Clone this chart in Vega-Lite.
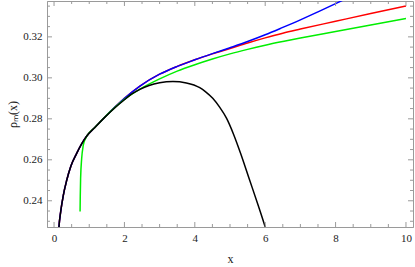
{
  "$schema": "https://vega.github.io/schema/vega-lite/v6.json",
  "width": 366,
  "height": 226,
  "autosize": {"type": "none"},
  "padding": {"left": 47, "top": 1, "right": 2, "bottom": 40},
  "background": "white",
  "config": {
    "view": {"stroke": "#9a9a9a", "strokeWidth": 1},
    "axis": {
      "labelFont": "Liberation Serif",
      "titleFont": "Liberation Serif",
      "labelFontSize": 11,
      "titleFontSize": 12,
      "labelColor": "#222",
      "titleColor": "#222",
      "titleFontWeight": "normal",
      "domainColor": "#9a9a9a",
      "domainWidth": 1,
      "labelOverlap": false,
      "labelFlush": false
    }
  },
  "datasets": {
    "xticks": [
      {"v": 0, "major": true}, {"v": 0.5, "major": false}, {"v": 1, "major": false}, {"v": 1.5, "major": false},
      {"v": 2, "major": true}, {"v": 2.5, "major": false}, {"v": 3, "major": false}, {"v": 3.5, "major": false},
      {"v": 4, "major": true}, {"v": 4.5, "major": false}, {"v": 5, "major": false}, {"v": 5.5, "major": false},
      {"v": 6, "major": true}, {"v": 6.5, "major": false}, {"v": 7, "major": false}, {"v": 7.5, "major": false},
      {"v": 8, "major": true}, {"v": 8.5, "major": false}, {"v": 9, "major": false}, {"v": 9.5, "major": false},
      {"v": 10, "major": true}
    ],
    "yticks": [
      {"v": 0.23, "major": false}, {"v": 0.235, "major": false}, {"v": 0.24, "major": true}, {"v": 0.245, "major": false},
      {"v": 0.25, "major": false}, {"v": 0.255, "major": false}, {"v": 0.26, "major": true}, {"v": 0.265, "major": false},
      {"v": 0.27, "major": false}, {"v": 0.275, "major": false}, {"v": 0.28, "major": true}, {"v": 0.285, "major": false},
      {"v": 0.29, "major": false}, {"v": 0.295, "major": false}, {"v": 0.30, "major": true}, {"v": 0.305, "major": false},
      {"v": 0.31, "major": false}, {"v": 0.315, "major": false}, {"v": 0.32, "major": true}, {"v": 0.325, "major": false},
      {"v": 0.33, "major": false}, {"v": 0.335, "major": false}
    ],
    "curves": [
      {"s": "red", "x": 0.12, "y": 0.2215},
      {"s": "red", "x": 0.14, "y": 0.2272},
      {"s": "red", "x": 0.19, "y": 0.2348},
      {"s": "red", "x": 0.265, "y": 0.2428},
      {"s": "red", "x": 0.36, "y": 0.2500},
      {"s": "red", "x": 0.48, "y": 0.2570},
      {"s": "red", "x": 0.64, "y": 0.2630},
      {"s": "red", "x": 0.78, "y": 0.2676},
      {"s": "red", "x": 0.93, "y": 0.2716},
      {"s": "red", "x": 1.16, "y": 0.2758},
      {"s": "red", "x": 1.44, "y": 0.2808},
      {"s": "red", "x": 1.73, "y": 0.2857},
      {"s": "red", "x": 2.0, "y": 0.2900},
      {"s": "red", "x": 2.44, "y": 0.2960},
      {"s": "red", "x": 3.0, "y": 0.3018},
      {"s": "red", "x": 3.5, "y": 0.3056},
      {"s": "red", "x": 4.0, "y": 0.3088},
      {"s": "red", "x": 4.5, "y": 0.3117},
      {"s": "red", "x": 5.0, "y": 0.3143},
      {"s": "red", "x": 5.5, "y": 0.3170},
      {"s": "red", "x": 6.0, "y": 0.3195},
      {"s": "red", "x": 6.5, "y": 0.3218},
      {"s": "red", "x": 7.0, "y": 0.3238},
      {"s": "red", "x": 8.0, "y": 0.3276},
      {"s": "red", "x": 9.0, "y": 0.3314},
      {"s": "red", "x": 10.0, "y": 0.3351},
      {"s": "blue", "x": 0.12, "y": 0.2215},
      {"s": "blue", "x": 0.14, "y": 0.2272},
      {"s": "blue", "x": 0.19, "y": 0.2348},
      {"s": "blue", "x": 0.265, "y": 0.2428},
      {"s": "blue", "x": 0.36, "y": 0.2500},
      {"s": "blue", "x": 0.48, "y": 0.2570},
      {"s": "blue", "x": 0.64, "y": 0.2630},
      {"s": "blue", "x": 0.78, "y": 0.2676},
      {"s": "blue", "x": 0.93, "y": 0.2716},
      {"s": "blue", "x": 1.16, "y": 0.2758},
      {"s": "blue", "x": 1.44, "y": 0.2808},
      {"s": "blue", "x": 1.73, "y": 0.2857},
      {"s": "blue", "x": 2.0, "y": 0.2900},
      {"s": "blue", "x": 2.44, "y": 0.2960},
      {"s": "blue", "x": 3.0, "y": 0.3018},
      {"s": "blue", "x": 3.5, "y": 0.3056},
      {"s": "blue", "x": 4.0, "y": 0.3088},
      {"s": "blue", "x": 4.5, "y": 0.3118},
      {"s": "blue", "x": 5.0, "y": 0.3147},
      {"s": "blue", "x": 5.5, "y": 0.3177},
      {"s": "blue", "x": 6.0, "y": 0.3210},
      {"s": "blue", "x": 6.5, "y": 0.3246},
      {"s": "blue", "x": 7.0, "y": 0.3283},
      {"s": "blue", "x": 7.5, "y": 0.3322},
      {"s": "blue", "x": 8.0, "y": 0.3362},
      {"s": "blue", "x": 8.5, "y": 0.3403},
      {"s": "green", "x": 0.74, "y": 0.2348},
      {"s": "green", "x": 0.745, "y": 0.2420},
      {"s": "green", "x": 0.755, "y": 0.2509},
      {"s": "green", "x": 0.785, "y": 0.2606},
      {"s": "green", "x": 0.83, "y": 0.2670},
      {"s": "green", "x": 0.9, "y": 0.2706},
      {"s": "green", "x": 0.93, "y": 0.2716},
      {"s": "green", "x": 1.16, "y": 0.2758},
      {"s": "green", "x": 1.44, "y": 0.2808},
      {"s": "green", "x": 1.73, "y": 0.2856},
      {"s": "green", "x": 2.0, "y": 0.2895},
      {"s": "green", "x": 2.44, "y": 0.2945},
      {"s": "green", "x": 3.0, "y": 0.2995},
      {"s": "green", "x": 3.5, "y": 0.3033},
      {"s": "green", "x": 4.0, "y": 0.3064},
      {"s": "green", "x": 4.5, "y": 0.3092},
      {"s": "green", "x": 5.0, "y": 0.3117},
      {"s": "green", "x": 5.5, "y": 0.3139},
      {"s": "green", "x": 6.0, "y": 0.3159},
      {"s": "green", "x": 6.5, "y": 0.3177},
      {"s": "green", "x": 7.0, "y": 0.3194},
      {"s": "green", "x": 8.0, "y": 0.3226},
      {"s": "green", "x": 9.0, "y": 0.3258},
      {"s": "green", "x": 10.0, "y": 0.3290},
      {"s": "black", "x": 0.12, "y": 0.2215},
      {"s": "black", "x": 0.14, "y": 0.2272},
      {"s": "black", "x": 0.19, "y": 0.2348},
      {"s": "black", "x": 0.265, "y": 0.2428},
      {"s": "black", "x": 0.36, "y": 0.2500},
      {"s": "black", "x": 0.48, "y": 0.2570},
      {"s": "black", "x": 0.64, "y": 0.2630},
      {"s": "black", "x": 0.78, "y": 0.2676},
      {"s": "black", "x": 0.93, "y": 0.2716},
      {"s": "black", "x": 1.16, "y": 0.2758},
      {"s": "black", "x": 1.44, "y": 0.2807},
      {"s": "black", "x": 1.73, "y": 0.2854},
      {"s": "black", "x": 2.0, "y": 0.2893},
      {"s": "black", "x": 2.2, "y": 0.2920},
      {"s": "black", "x": 2.44, "y": 0.2944},
      {"s": "black", "x": 2.7, "y": 0.2963},
      {"s": "black", "x": 3.0, "y": 0.2976},
      {"s": "black", "x": 3.38, "y": 0.2982},
      {"s": "black", "x": 3.76, "y": 0.2975},
      {"s": "black", "x": 4.14, "y": 0.2952},
      {"s": "black", "x": 4.3, "y": 0.2933},
      {"s": "black", "x": 4.51, "y": 0.2900},
      {"s": "black", "x": 4.7, "y": 0.2858},
      {"s": "black", "x": 4.9, "y": 0.2803},
      {"s": "black", "x": 5.1, "y": 0.2725},
      {"s": "black", "x": 5.3, "y": 0.2632},
      {"s": "black", "x": 5.55, "y": 0.2505},
      {"s": "black", "x": 5.8, "y": 0.2378},
      {"s": "black", "x": 6.0, "y": 0.2272},
      {"s": "black", "x": 6.1, "y": 0.2215}
    ]
  },
  "resolve": {"axis": {"x": "independent", "y": "independent"}},
  "layer": [
    {
      "data": {"name": "curves"},
      "transform": [{"filter": "datum.s == 'red'"}],
      "mark": {"type": "line", "color": "#ff0000", "strokeWidth": 1.5, "interpolate": "monotone", "clip": true},
      "encoding": {
        "x": {"field": "x", "type": "quantitative",
          "scale": {"domain": [-0.2, 10.2], "nice": false, "zero": false},
          "axis": {"orient": "bottom", "title": "x", "titlePadding": 10, "format": "d",
            "tickCount": 21, "grid": false, "ticks": true, "tickOpacity": 0, "tickWidth": 1,
            "labelExpr": "abs(datum.value % 2) < 0.001 ? datum.label : ''",
            "tickSize": -5,
            "labelPadding": 10}},
        "y": {"field": "y", "type": "quantitative",
          "scale": {"domain": [0.2272, 0.3375], "nice": false, "zero": false},
          "axis": {"orient": "left", "title": "ρₘ(x)", "titlePadding": 3,
            "tickCount": 22, "grid": false, "ticks": true, "tickOpacity": 0, "tickWidth": 1,
            "format": ".2f",
            "labelExpr": "abs(datum.value*50 - round(datum.value*50)) < 0.001 ? datum.label : ''",
            "tickSize": -5,
            "labelPadding": 10}}
      }
    },
    {
      "data": {"name": "curves"},
      "transform": [{"filter": "datum.s == 'blue'"}],
      "mark": {"type": "line", "color": "#0000ff", "strokeWidth": 1.5, "interpolate": "monotone", "clip": true},
      "encoding": {
        "x": {"field": "x", "type": "quantitative", "axis": null},
        "y": {"field": "y", "type": "quantitative", "axis": null}
      }
    },
    {
      "data": {"name": "curves"},
      "transform": [{"filter": "datum.s == 'green'"}],
      "mark": {"type": "line", "color": "#00ee00", "strokeWidth": 1.5, "interpolate": "monotone", "clip": true},
      "encoding": {
        "x": {"field": "x", "type": "quantitative", "axis": null},
        "y": {"field": "y", "type": "quantitative", "axis": null}
      }
    },
    {
      "data": {"name": "curves"},
      "transform": [{"filter": "datum.s == 'black'"}],
      "mark": {"type": "line", "color": "#000000", "strokeWidth": 1.5, "interpolate": "monotone", "clip": true},
      "encoding": {
        "x": {"field": "x", "type": "quantitative", "axis": null},
        "y": {"field": "y", "type": "quantitative", "axis": null}
      }
    },
    {
      "data": {"name": "xticks"},
      "mark": {"type": "tick", "orient": "vertical", "color": "#9a9a9a", "thickness": 1, "opacity": 1, "clip": true},
      "encoding": {
        "x": {"field": "v", "type": "quantitative", "axis": null},
        "y": {"datum": 0.2272, "type": "quantitative", "axis": null},
        "size": {"condition": {"test": "datum.major", "value": 10}, "value": 6}
      }
    },
    {
      "data": {"name": "xticks"},
      "mark": {"type": "tick", "orient": "vertical", "color": "#9a9a9a", "thickness": 1, "opacity": 1, "clip": true},
      "encoding": {
        "x": {"field": "v", "type": "quantitative", "axis": null},
        "y": {"datum": 0.3375, "type": "quantitative", "axis": null},
        "size": {"condition": {"test": "datum.major", "value": 10}, "value": 6}
      }
    },
    {
      "data": {"name": "yticks"},
      "mark": {"type": "tick", "orient": "horizontal", "color": "#9a9a9a", "thickness": 1, "opacity": 1, "clip": true},
      "encoding": {
        "y": {"field": "v", "type": "quantitative", "axis": null},
        "x": {"datum": -0.2, "type": "quantitative", "axis": null},
        "size": {"condition": {"test": "datum.major", "value": 10}, "value": 6}
      }
    },
    {
      "data": {"name": "yticks"},
      "mark": {"type": "tick", "orient": "horizontal", "color": "#9a9a9a", "thickness": 1, "opacity": 1, "clip": true},
      "encoding": {
        "y": {"field": "v", "type": "quantitative", "axis": null},
        "x": {"datum": 10.2, "type": "quantitative", "axis": null},
        "size": {"condition": {"test": "datum.major", "value": 10}, "value": 6}
      }
    }
  ]
}
